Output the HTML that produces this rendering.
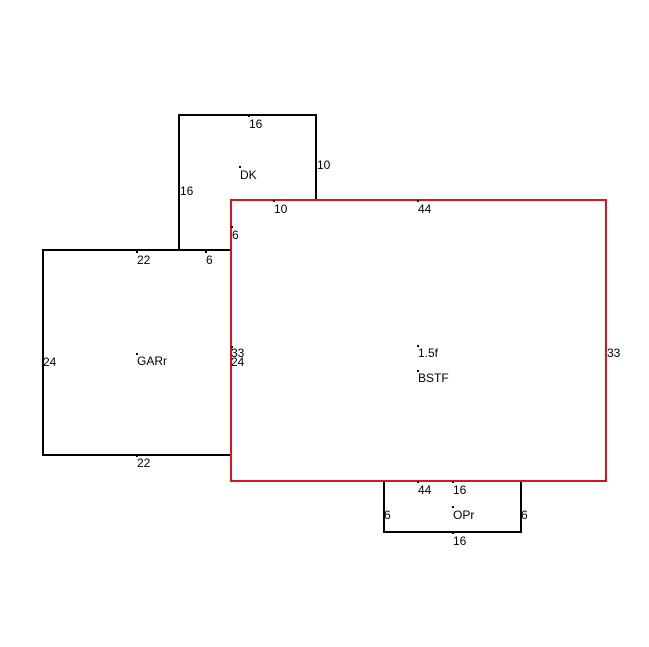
<!DOCTYPE html>
<html><head><style>
html,body{margin:0;padding:0;background:#fff;}
svg{display:block;}
text{font-family:"Liberation Sans",sans-serif;font-size:12px;fill:#000;}
</style></head><body>
<svg width="649" height="647" viewBox="0 0 649 647" xmlns="http://www.w3.org/2000/svg">
<g fill="none" stroke="#000" stroke-width="2">
<polyline points="179,250 179,115 316,115 316,200"/>
<polyline points="231,250 43,250 43,455 231,455"/>
<polyline points="384,481 384,532 521,532 521,481"/>
</g>
<rect x="231" y="200" width="375" height="281" fill="none" stroke="#d9141e" stroke-width="2"/>
<g fill="#000">
<rect x="248" y="115" width="2" height="2"/><rect x="239" y="166" width="2" height="2"/>
<rect x="273" y="200" width="2" height="2"/><rect x="417" y="200" width="2" height="2"/>
<rect x="205" y="251" width="2" height="2"/><rect x="136" y="251" width="2" height="2"/>
<rect x="136" y="353" width="2" height="2"/><rect x="417" y="345" width="2" height="2"/>
<rect x="417" y="370" width="2" height="2"/><rect x="136" y="455" width="2" height="2"/>
<rect x="417" y="481" width="2" height="2"/><rect x="452" y="481" width="2" height="2"/>
<rect x="452" y="506" width="2" height="2"/><rect x="452" y="532" width="2" height="2"/>
<rect x="231" y="346" width="2" height="2"/><rect x="231" y="226" width="2" height="2"/>
</g>
<text x="249" y="128">16</text>
<text x="240" y="179">DK</text>
<text x="317" y="169">10</text>
<text x="180" y="195">16</text>
<text x="274" y="213">10</text>
<text x="418" y="213">44</text>
<text x="232" y="239">6</text>
<text x="206" y="264">6</text>
<text x="137" y="264">22</text>
<text x="137" y="365">GARr</text>
<text x="43" y="366">24</text>
<text x="231" y="357">33</text>
<text x="231" y="366">24</text>
<text x="418" y="357">1.5f</text>
<text x="418" y="382">BSTF</text>
<text x="607" y="357">33</text>
<text x="137" y="467">22</text>
<text x="418" y="494">44</text>
<text x="453" y="494">16</text>
<text x="384" y="519">6</text>
<text x="453" y="519">OPr</text>
<text x="521" y="519">6</text>
<text x="453" y="545">16</text>
</svg>
</body></html>
